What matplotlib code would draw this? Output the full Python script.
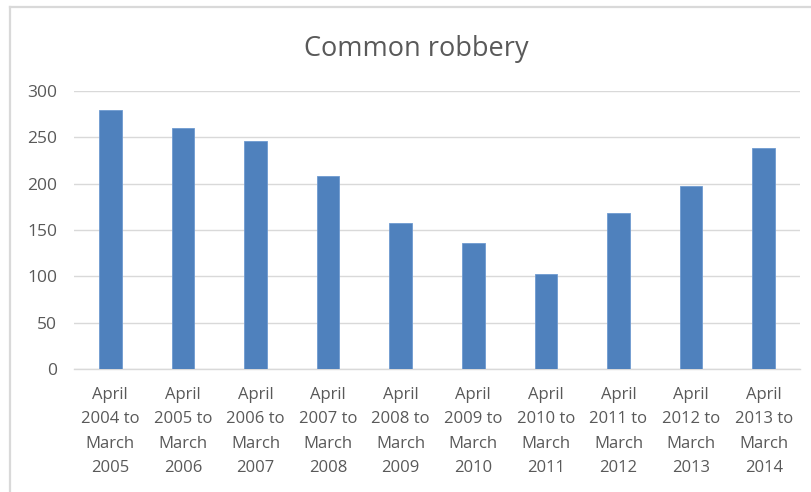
import matplotlib.pyplot as plt
from matplotlib.lines import Line2D

periods = ["April\n2004 to\nMarch\n2005", "April\n2005 to\nMarch\n2006",
           "April\n2006 to\nMarch\n2007", "April\n2007 to\nMarch\n2008",
           "April\n2008 to\nMarch\n2009", "April\n2009 to\nMarch\n2010",
           "April\n2010 to\nMarch\n2011", "April\n2011 to\nMarch\n2012",
           "April\n2012 to\nMarch\n2013", "April\n2013 to\nMarch\n2014"]
robberies = [279, 260, 246, 208, 158, 136, 102, 168, 198, 238]
y_ticks = [0, 50, 100, 150, 200, 250, 300]

plt.rcParams['font.family'] = ['Open Sans', 'DejaVu Sans']

grey_text = "#595959"
grid_col = "#d9d9d9"

fig = plt.figure(figsize=(8.12, 4.92), dpi=100)
ax = fig.add_axes([74 / 812, 1 - 369 / 492, 726 / 812, 278 / 492])

x = range(len(robberies))
ax.bar(x, robberies, width=0.31, color="#4f81bd", edgecolor="#6f9ad0",
       linewidth=0.6, zorder=3)

ax.set_xlim(-0.5, len(robberies) - 0.5)
ax.set_ylim(0, 300)
ax.set_yticks(y_ticks)
ax.set_xticks(list(x))
ax.set_xticklabels(periods, linespacing=1.7)
ax.tick_params(axis="x", length=0, pad=13, labelsize=12, colors=grey_text)
ax.tick_params(axis="y", length=0, pad=12, labelsize=12.5, colors=grey_text)

ax.grid(axis="y", color=grid_col, linewidth=1, zorder=0)
for side in ["top", "right", "left"]:
    ax.spines[side].set_visible(False)
ax.spines["bottom"].set_color(grid_col)
ax.spines["bottom"].set_linewidth(1)

fig.text(416 / 812, 1 - 49 / 492, "Common robbery", ha="center", va="center",
         fontsize=19.5, color=grey_text)

# chart area frame (top and left edges)
fig.add_artist(Line2D([10 / 812, 1], [1 - 7 / 492, 1 - 7 / 492],
                      transform=fig.transFigure, color=grid_col, linewidth=1.6))
fig.add_artist(Line2D([10 / 812, 10 / 812], [0, 1 - 7 / 492],
                      transform=fig.transFigure, color=grid_col, linewidth=1.6))

fig.savefig("out.png", dpi=100)
